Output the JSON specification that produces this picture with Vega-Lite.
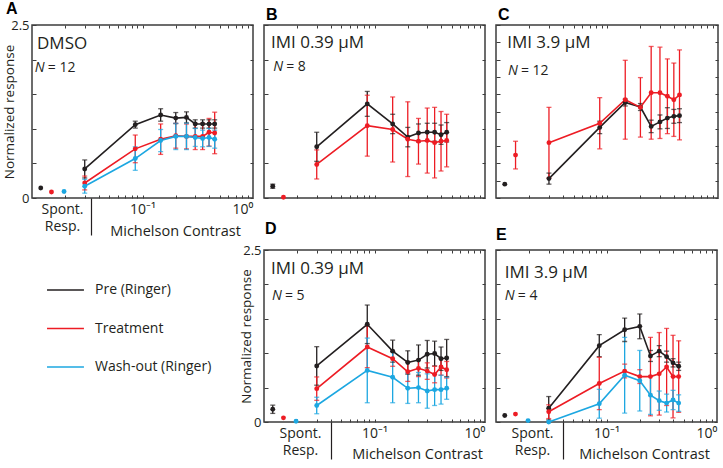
{
"$schema": "https://vega.github.io/schema/vega-lite/v6.json",
"padding": {"left": 1, "top": 0, "right": 0, "bottom": 0},
"background": "white",
"bounds": "flush",
"columns": 3,
"spacing": {"row": 52, "column": 11},
"config": {
  "font": "Open Sans",
  "view": {"stroke": "#3d3d3d", "strokeWidth": 1.5},
  "axis": {"domain": false, "grid": false, "labelFont": "Open Sans", "labelColor": "#231f20", "labelFontSize": 13, "titleFont": "Open Sans", "titleColor": "#231f20", "titleFontWeight": "normal", "titleFontSize": 13.5, "tickColor": "#3d3d3d", "tickWidth": 1, "labelFlush": false, "labelOverlap": false},
  "title": {"font": "Liberation Sans", "fontSize": 16, "fontWeight": "bold", "anchor": "start", "frame": "group", "color": "#000000"}
},
"datasets": {
"A": [
{"s":"pre","t":"s","c":0.012,"v":0.145},
{"s":"pre","t":"c","c":0.03,"v":0.42,"lo":0.29,"hi":0.55},
{"s":"pre","t":"c","c":0.086,"v":1.06,"lo":1.01,"hi":1.11},
{"s":"pre","t":"c","c":0.146,"v":1.2,"lo":1.11,"hi":1.29},
{"s":"pre","t":"c","c":0.2,"v":1.155,"lo":1.075,"hi":1.235},
{"s":"pre","t":"c","c":0.25,"v":1.165,"lo":1.085,"hi":1.245},
{"s":"pre","t":"c","c":0.3,"v":1.07,"lo":1.01,"hi":1.13},
{"s":"pre","t":"c","c":0.35,"v":1.07,"lo":1.01,"hi":1.13},
{"s":"pre","t":"c","c":0.4,"v":1.07,"lo":1.01,"hi":1.13},
{"s":"pre","t":"c","c":0.45,"v":1.07,"lo":1.01,"hi":1.13},
{"s":"trt","t":"s","c":0.015,"v":0.087},
{"s":"trt","t":"c","c":0.03,"v":0.217,"lo":0.117,"hi":0.317},
{"s":"trt","t":"c","c":0.086,"v":0.71,"lo":0.51,"hi":0.91},
{"s":"trt","t":"c","c":0.146,"v":0.85,"lo":0.63,"hi":1.07},
{"s":"trt","t":"c","c":0.2,"v":0.9,"lo":0.72,"hi":1.08},
{"s":"trt","t":"c","c":0.25,"v":0.89,"lo":0.71,"hi":1.07},
{"s":"trt","t":"c","c":0.3,"v":0.89,"lo":0.7,"hi":1.08},
{"s":"trt","t":"c","c":0.35,"v":0.89,"lo":0.7,"hi":1.08},
{"s":"trt","t":"c","c":0.4,"v":0.95,"lo":0.75,"hi":1.15},
{"s":"trt","t":"c","c":0.45,"v":0.94,"lo":0.64,"hi":1.24},
{"s":"wash","t":"s","c":0.0195,"v":0.095},
{"s":"wash","t":"c","c":0.03,"v":0.17,"lo":0.07,"hi":0.27},
{"s":"wash","t":"c","c":0.086,"v":0.57,"lo":0.4,"hi":0.74},
{"s":"wash","t":"c","c":0.146,"v":0.83,"lo":0.67,"hi":0.99},
{"s":"wash","t":"c","c":0.2,"v":0.89,"lo":0.7,"hi":1.08},
{"s":"wash","t":"c","c":0.25,"v":0.89,"lo":0.7,"hi":1.08},
{"s":"wash","t":"c","c":0.3,"v":0.875,"lo":0.745,"hi":1.005},
{"s":"wash","t":"c","c":0.35,"v":0.86,"lo":0.74,"hi":0.98},
{"s":"wash","t":"c","c":0.4,"v":0.875,"lo":0.745,"hi":1.005},
{"s":"wash","t":"c","c":0.45,"v":0.85,"lo":0.72,"hi":0.98}
],
"B": [
{"s":"pre","t":"s","c":0.012,"v":0.17,"lo":0.14,"hi":0.2},
{"s":"pre","t":"c","c":0.03,"v":0.74,"lo":0.53,"hi":0.95},
{"s":"pre","t":"c","c":0.086,"v":1.36,"lo":1.18,"hi":1.54},
{"s":"pre","t":"c","c":0.146,"v":1.07,"lo":0.93,"hi":1.21},
{"s":"pre","t":"c","c":0.2,"v":0.88,"lo":0.74,"hi":1.02},
{"s":"pre","t":"c","c":0.25,"v":0.94,"lo":0.81,"hi":1.07},
{"s":"pre","t":"c","c":0.3,"v":0.95,"lo":0.82,"hi":1.08},
{"s":"pre","t":"c","c":0.35,"v":0.95,"lo":0.82,"hi":1.08},
{"s":"pre","t":"c","c":0.4,"v":0.915,"lo":0.775,"hi":1.055},
{"s":"pre","t":"c","c":0.45,"v":0.95,"lo":0.81,"hi":1.09},
{"s":"trt","t":"s","c":0.015,"v":0.01},
{"s":"trt","t":"c","c":0.03,"v":0.485,"lo":0.275,"hi":0.695},
{"s":"trt","t":"c","c":0.086,"v":1.045,"lo":0.605,"hi":1.485},
{"s":"trt","t":"c","c":0.146,"v":0.99,"lo":0.52,"hi":1.46},
{"s":"trt","t":"c","c":0.2,"v":0.85,"lo":0.31,"hi":1.39},
{"s":"trt","t":"c","c":0.25,"v":0.82,"lo":0.49,"hi":1.15},
{"s":"trt","t":"c","c":0.3,"v":0.83,"lo":0.36,"hi":1.3},
{"s":"trt","t":"c","c":0.35,"v":0.8,"lo":0.29,"hi":1.31},
{"s":"trt","t":"c","c":0.4,"v":0.82,"lo":0.39,"hi":1.25},
{"s":"trt","t":"c","c":0.45,"v":0.83,"lo":0.45,"hi":1.21}
],
"C": [
{"s":"pre","t":"s","c":0.012,"v":0.2},
{"s":"pre","t":"c","c":0.03,"v":0.28,"lo":0.2,"hi":0.36},
{"s":"pre","t":"c","c":0.086,"v":1.02,"lo":0.93,"hi":1.11},
{"s":"pre","t":"c","c":0.146,"v":1.38,"lo":1.33,"hi":1.43},
{"s":"pre","t":"c","c":0.2,"v":1.315,"lo":1.265,"hi":1.365},
{"s":"pre","t":"c","c":0.25,"v":1.035,"lo":0.945,"hi":1.125},
{"s":"pre","t":"c","c":0.3,"v":1.1,"lo":1.0,"hi":1.2},
{"s":"pre","t":"c","c":0.35,"v":1.155,"lo":1.005,"hi":1.305},
{"s":"pre","t":"c","c":0.4,"v":1.18,"lo":1.08,"hi":1.28},
{"s":"pre","t":"c","c":0.45,"v":1.19,"lo":1.09,"hi":1.29},
{"s":"trt","t":"s","c":0.015,"v":0.62,"lo":0.42,"hi":0.82},
{"s":"trt","t":"c","c":0.03,"v":0.8,"lo":0.29,"hi":1.31},
{"s":"trt","t":"c","c":0.086,"v":1.08,"lo":0.71,"hi":1.45},
{"s":"trt","t":"c","c":0.146,"v":1.42,"lo":0.85,"hi":1.99},
{"s":"trt","t":"c","c":0.2,"v":1.31,"lo":0.88,"hi":1.74},
{"s":"trt","t":"c","c":0.25,"v":1.52,"lo":0.85,"hi":2.19},
{"s":"trt","t":"c","c":0.3,"v":1.52,"lo":0.86,"hi":2.18},
{"s":"trt","t":"c","c":0.35,"v":1.47,"lo":0.93,"hi":2.01},
{"s":"trt","t":"c","c":0.4,"v":1.42,"lo":0.89,"hi":1.95},
{"s":"trt","t":"c","c":0.45,"v":1.49,"lo":0.84,"hi":2.14}
],
"D": [
{"s":"pre","t":"s","c":0.012,"v":0.185,"lo":0.125,"hi":0.245},
{"s":"pre","t":"c","c":0.03,"v":0.815,"lo":0.535,"hi":1.095},
{"s":"pre","t":"c","c":0.086,"v":1.42,"lo":1.14,"hi":1.7},
{"s":"pre","t":"c","c":0.146,"v":1.03,"lo":0.87,"hi":1.19},
{"s":"pre","t":"c","c":0.2,"v":0.865,"lo":0.695,"hi":1.035},
{"s":"pre","t":"c","c":0.25,"v":0.9,"lo":0.68,"hi":1.12},
{"s":"pre","t":"c","c":0.3,"v":0.985,"lo":0.785,"hi":1.185},
{"s":"pre","t":"c","c":0.35,"v":0.995,"lo":0.815,"hi":1.175},
{"s":"pre","t":"c","c":0.4,"v":0.92,"lo":0.75,"hi":1.09},
{"s":"pre","t":"c","c":0.45,"v":0.93,"lo":0.66,"hi":1.2},
{"s":"trt","t":"s","c":0.015,"v":0.06},
{"s":"trt","t":"c","c":0.03,"v":0.485,"lo":0.315,"hi":0.655},
{"s":"trt","t":"c","c":0.086,"v":1.09,"lo":0.79,"hi":1.39},
{"s":"trt","t":"c","c":0.146,"v":0.92,"lo":0.81,"hi":1.03},
{"s":"trt","t":"c","c":0.2,"v":0.73,"lo":0.59,"hi":0.87},
{"s":"trt","t":"c","c":0.25,"v":0.78,"lo":0.66,"hi":0.9},
{"s":"trt","t":"c","c":0.3,"v":0.74,"lo":0.62,"hi":0.86},
{"s":"trt","t":"c","c":0.35,"v":0.69,"lo":0.57,"hi":0.81},
{"s":"trt","t":"c","c":0.4,"v":0.8,"lo":0.68,"hi":0.92},
{"s":"trt","t":"c","c":0.45,"v":0.76,"lo":0.64,"hi":0.88},
{"s":"wash","t":"s","c":0.0195,"v":0.01},
{"s":"wash","t":"c","c":0.03,"v":0.24,"lo":0.12,"hi":0.36},
{"s":"wash","t":"c","c":0.086,"v":0.75,"lo":0.28,"hi":1.22},
{"s":"wash","t":"c","c":0.146,"v":0.65,"lo":0.28,"hi":1.02},
{"s":"wash","t":"c","c":0.2,"v":0.49,"lo":0.27,"hi":0.71},
{"s":"wash","t":"c","c":0.25,"v":0.5,"lo":0.28,"hi":0.72},
{"s":"wash","t":"c","c":0.3,"v":0.45,"lo":0.2,"hi":0.7},
{"s":"wash","t":"c","c":0.35,"v":0.47,"lo":0.24,"hi":0.7},
{"s":"wash","t":"c","c":0.4,"v":0.47,"lo":0.26,"hi":0.68},
{"s":"wash","t":"c","c":0.45,"v":0.49,"lo":0.33,"hi":0.65}
],
"E": [
{"s":"pre","t":"s","c":0.012,"v":0.095},
{"s":"pre","t":"c","c":0.03,"v":0.2,"lo":0.03,"hi":0.37},
{"s":"pre","t":"c","c":0.086,"v":1.11,"lo":0.95,"hi":1.27},
{"s":"pre","t":"c","c":0.146,"v":1.34,"lo":1.17,"hi":1.51},
{"s":"pre","t":"c","c":0.2,"v":1.39,"lo":1.21,"hi":1.57},
{"s":"pre","t":"c","c":0.25,"v":0.96,"lo":0.88,"hi":1.04},
{"s":"pre","t":"c","c":0.3,"v":1.03,"lo":0.95,"hi":1.11},
{"s":"pre","t":"c","c":0.35,"v":0.95,"lo":0.87,"hi":1.03},
{"s":"pre","t":"c","c":0.4,"v":0.86,"lo":0.8,"hi":0.92},
{"s":"pre","t":"c","c":0.45,"v":0.81,"lo":0.75,"hi":0.87},
{"s":"trt","t":"s","c":0.015,"v":0.115},
{"s":"trt","t":"c","c":0.03,"v":0.15,"lo":0.05,"hi":0.25},
{"s":"trt","t":"c","c":0.086,"v":0.56,"lo":0.18,"hi":0.94},
{"s":"trt","t":"c","c":0.146,"v":0.74,"lo":0.64,"hi":0.84},
{"s":"trt","t":"c","c":0.2,"v":0.66,"lo":0.56,"hi":0.76},
{"s":"trt","t":"c","c":0.25,"v":0.66,"lo":0.09,"hi":1.23},
{"s":"trt","t":"c","c":0.3,"v":0.7,"lo":0.1,"hi":1.3},
{"s":"trt","t":"c","c":0.35,"v":0.8,"lo":0.24,"hi":1.36},
{"s":"trt","t":"c","c":0.4,"v":0.66,"lo":0.06,"hi":1.26},
{"s":"trt","t":"c","c":0.45,"v":0.66,"lo":0.14,"hi":1.18},
{"s":"wash","t":"s","c":0.0195,"v":0.02},
{"s":"wash","t":"c","c":0.03,"v":0.0},
{"s":"wash","t":"c","c":0.086,"v":0.265,"lo":0.055,"hi":0.475},
{"s":"wash","t":"c","c":0.146,"v":0.68,"lo":0.13,"hi":1.23},
{"s":"wash","t":"c","c":0.2,"v":0.6,"lo":0.16,"hi":1.04},
{"s":"wash","t":"c","c":0.25,"v":0.39,"lo":0.11,"hi":0.67},
{"s":"wash","t":"c","c":0.3,"v":0.31,"lo":0.17,"hi":0.45},
{"s":"wash","t":"c","c":0.35,"v":0.275,"lo":0.145,"hi":0.405},
{"s":"wash","t":"c","c":0.4,"v":0.32,"lo":0.18,"hi":0.46},
{"s":"wash","t":"c","c":0.45,"v":0.275,"lo":0.155,"hi":0.395}
],
"L": [
{"s":"pre","label":"Pre (Ringer)"},
{"s":"trt","label":"Treatment"},
{"s":"wash","label":"Wash-out (Ringer)"}
]
},
"concat": [
{
 "width": 221, "height": 173,
 "title": {"text": "A", "dx": -26, "offset": 2},
 "data": {"name": "A"},
 "resolve": {"axis": {"x": "independent", "y": "independent"}},
 "layer": [
  {"mark": {"type": "point", "opacity": 0},
   "encoding": {
    "x": {"field": "c", "type": "quantitative", "scale": {"type": "log", "domain": [0.01, 1], "nice": false}, "axis": {"orient": "bottom", "values": [0.0187, 0.1, 1], "labelExpr": "datum.value < 0.05 ? ['Spont.', 'Resp.'] : (datum.value < 0.5 ? '10⁻¹' : '10⁰')", "labelAlign": {"condition": {"test": "datum.value == 1", "value": "right"}, "value": "center"}, "ticks": false, "labelPadding": 4, "labelFontSize": 14, "labelLineHeight": 17.5, "title": "Michelson Contrast", "titleX": 143, "titleY": 37, "titleBaseline": "alphabetic", "titleAlign": "center", "titleFontSize": 14.5}},
    "y": {"field": "v", "type": "quantitative", "scale": {"domain": [0, 2.5], "nice": false, "zero": false}, "axis": {"orient": "left", "values": [0, 0.5, 1, 1.5, 2, 2.5], "labelExpr": "datum.value == 0 ? '0' : (datum.value == 2.5 ? '2.5' : '')", "tickSize": -4, "labelPadding": 7, "title": "Normalized response", "titlePadding": -6}}
   }},
  {"mark": {"type": "point", "opacity": 0},
   "encoding": {
    "x": {"field": "c", "type": "quantitative", "scale": {"type": "log", "domain": [0.01, 1], "nice": false}, "axis": {"orient": "bottom", "values": [0.02,0.03,0.04,0.05,0.06,0.07,0.08,0.09,0.1,0.2,0.3,0.4,0.5,0.6,0.7,0.8,0.9], "labels": false, "tickSize": -3, "title": null}},
    "y": {"field": "v", "type": "quantitative", "scale": {"domain": [0, 2.5], "nice": false, "zero": false}, "axis": {"orient": "right", "values": [0, 0.5, 1, 1.5, 2, 2.5], "labels": false, "tickSize": -3, "title": null}}
   }},
  {"mark": {"type": "point", "opacity": 0},
   "encoding": {
    "x": {"field": "c", "type": "quantitative", "scale": {"type": "log", "domain": [0.01, 1], "nice": false}, "axis": {"orient": "top", "values": [0.02,0.03,0.04,0.05,0.06,0.07,0.08,0.09,0.1,0.2,0.3,0.4,0.5,0.6,0.7,0.8,0.9], "labels": false, "tickSize": -3, "title": null}},
    "y": {"field": "v", "type": "quantitative", "scale": {"domain": [0, 2.5], "nice": false, "zero": false}, "axis": null}
   }},
  {"mark": {"type": "point", "opacity": 0},
   "encoding": {
    "x": {"field": "c", "type": "quantitative", "scale": {"type": "log", "domain": [0.01, 1], "nice": false}, "axis": {"orient": "bottom", "values": [0.0344], "labels": false, "tickSize": 37, "tickColor": "#231f20", "tickWidth": 1.2, "title": null}},
    "y": {"field": "v", "type": "quantitative", "scale": {"domain": [0, 2.5], "nice": false, "zero": false}, "axis": null}
   }},
  {"mark": {"type": "rule", "strokeWidth": 1.3},
   "encoding": {
    "x": {"field": "c", "type": "quantitative", "scale": {"type": "log", "domain": [0.01, 1], "nice": false}, "axis": null},
    "y": {"field": "lo", "type": "quantitative", "scale": {"domain": [0, 2.5], "nice": false, "zero": false}, "axis": null},
    "y2": {"field": "hi"},
    "color": {"field": "s", "type": "nominal", "scale": {"domain": ["pre", "trt", "wash"], "range": ["#231f20", "#ed1c24", "#1ca7e1"]}, "legend": null}
   }},
  {"mark": {"type": "tick", "orient": "horizontal", "size": 5, "thickness": 1.3},
   "encoding": {
    "x": {"field": "c", "type": "quantitative", "scale": {"type": "log", "domain": [0.01, 1], "nice": false}, "axis": null},
    "y": {"field": "lo", "type": "quantitative", "scale": {"domain": [0, 2.5], "nice": false, "zero": false}, "axis": null},
    "color": {"field": "s", "type": "nominal", "scale": {"domain": ["pre", "trt", "wash"], "range": ["#231f20", "#ed1c24", "#1ca7e1"]}, "legend": null}
   }},
  {"mark": {"type": "tick", "orient": "horizontal", "size": 5, "thickness": 1.3},
   "encoding": {
    "x": {"field": "c", "type": "quantitative", "scale": {"type": "log", "domain": [0.01, 1], "nice": false}, "axis": null},
    "y": {"field": "hi", "type": "quantitative", "scale": {"domain": [0, 2.5], "nice": false, "zero": false}, "axis": null},
    "color": {"field": "s", "type": "nominal", "scale": {"domain": ["pre", "trt", "wash"], "range": ["#231f20", "#ed1c24", "#1ca7e1"]}, "legend": null}
   }},
  {"transform": [{"filter": "datum.t == 'c'"}],
   "mark": {"type": "line", "strokeWidth": 1.6},
   "encoding": {
    "x": {"field": "c", "type": "quantitative", "scale": {"type": "log", "domain": [0.01, 1], "nice": false}, "axis": null},
    "y": {"field": "v", "type": "quantitative", "scale": {"domain": [0, 2.5], "nice": false, "zero": false}, "axis": null},
    "color": {"field": "s", "type": "nominal", "scale": {"domain": ["pre", "trt", "wash"], "range": ["#231f20", "#ed1c24", "#1ca7e1"]}, "legend": null}
   }},
  {"mark": {"type": "circle", "size": 24, "opacity": 1},
   "encoding": {
    "x": {"field": "c", "type": "quantitative", "scale": {"type": "log", "domain": [0.01, 1], "nice": false}, "axis": null},
    "y": {"field": "v", "type": "quantitative", "scale": {"domain": [0, 2.5], "nice": false, "zero": false}, "axis": null},
    "color": {"field": "s", "type": "nominal", "scale": {"domain": ["pre", "trt", "wash"], "range": ["#231f20", "#ed1c24", "#1ca7e1"]}, "legend": null}
   }},
  {"data": {"values": [{}]},
   "mark": {"type": "text", "align": "left", "baseline": "alphabetic", "fontSize": 17, "color": "#231f20", "text": "DMSO"},
   "encoding": {"x": {"datum": 0.0111, "type": "quantitative", "scale": {"type": "log", "domain": [0.01, 1], "nice": false}, "axis": null}, "y": {"datum": 2.15, "type": "quantitative", "scale": {"domain": [0, 2.5], "nice": false, "zero": false}, "axis": null}}},
  {"data": {"values": [{}]},
   "mark": {"type": "text", "align": "left", "baseline": "alphabetic", "fontSize": 14, "fontStyle": "italic", "color": "#231f20", "text": "N"},
   "encoding": {"x": {"datum": 0.0106, "type": "quantitative", "scale": {"type": "log", "domain": [0.01, 1], "nice": false}, "axis": null}, "y": {"datum": 1.815, "type": "quantitative", "scale": {"domain": [0, 2.5], "nice": false, "zero": false}, "axis": null}}},
  {"data": {"values": [{}]},
   "mark": {"type": "text", "align": "left", "baseline": "alphabetic", "fontSize": 14, "color": "#231f20", "text": "= 12", "dx": 13},
   "encoding": {"x": {"datum": 0.0106, "type": "quantitative", "scale": {"type": "log", "domain": [0.01, 1], "nice": false}, "axis": null}, "y": {"datum": 1.815, "type": "quantitative", "scale": {"domain": [0, 2.5], "nice": false, "zero": false}, "axis": null}}}
 ]
},
{
 "width": 221, "height": 173,
 "title": {"text": "B", "dx": 2, "offset": 2},
 "data": {"name": "B"},
 "resolve": {"axis": {"x": "independent", "y": "independent"}},
 "layer": [
  {"mark": {"type": "point", "opacity": 0},
   "encoding": {
    "x": {"field": "c", "type": "quantitative", "scale": {"type": "log", "domain": [0.01, 1], "nice": false}, "axis": {"orient": "bottom", "values": [0.02,0.03,0.04,0.05,0.06,0.07,0.08,0.09,0.1,0.2,0.3,0.4,0.5,0.6,0.7,0.8,0.9], "labels": false, "tickSize": -3, "title": null}},
    "y": {"field": "v", "type": "quantitative", "scale": {"domain": [0, 2.5], "nice": false, "zero": false}, "axis": {"orient": "left", "values": [0, 0.5, 1, 1.5, 2, 2.5], "labels": false, "tickSize": -4, "title": null}}
   }},
  {"mark": {"type": "point", "opacity": 0},
   "encoding": {
    "x": {"field": "c", "type": "quantitative", "scale": {"type": "log", "domain": [0.01, 1], "nice": false}, "axis": {"orient": "top", "values": [0.02,0.03,0.04,0.05,0.06,0.07,0.08,0.09,0.1,0.2,0.3,0.4,0.5,0.6,0.7,0.8,0.9], "labels": false, "tickSize": -3, "title": null}},
    "y": {"field": "v", "type": "quantitative", "scale": {"domain": [0, 2.5], "nice": false, "zero": false}, "axis": {"orient": "right", "values": [0, 0.5, 1, 1.5, 2, 2.5], "labels": false, "tickSize": -3, "title": null}}
   }},
  {"mark": {"type": "rule", "strokeWidth": 1.3},
   "encoding": {
    "x": {"field": "c", "type": "quantitative", "scale": {"type": "log", "domain": [0.01, 1], "nice": false}, "axis": null},
    "y": {"field": "lo", "type": "quantitative", "scale": {"domain": [0, 2.5], "nice": false, "zero": false}, "axis": null},
    "y2": {"field": "hi"},
    "color": {"field": "s", "type": "nominal", "scale": {"domain": ["pre", "trt", "wash"], "range": ["#231f20", "#ed1c24", "#1ca7e1"]}, "legend": null}
   }},
  {"mark": {"type": "tick", "orient": "horizontal", "size": 5, "thickness": 1.3},
   "encoding": {
    "x": {"field": "c", "type": "quantitative", "scale": {"type": "log", "domain": [0.01, 1], "nice": false}, "axis": null},
    "y": {"field": "lo", "type": "quantitative", "scale": {"domain": [0, 2.5], "nice": false, "zero": false}, "axis": null},
    "color": {"field": "s", "type": "nominal", "scale": {"domain": ["pre", "trt", "wash"], "range": ["#231f20", "#ed1c24", "#1ca7e1"]}, "legend": null}
   }},
  {"mark": {"type": "tick", "orient": "horizontal", "size": 5, "thickness": 1.3},
   "encoding": {
    "x": {"field": "c", "type": "quantitative", "scale": {"type": "log", "domain": [0.01, 1], "nice": false}, "axis": null},
    "y": {"field": "hi", "type": "quantitative", "scale": {"domain": [0, 2.5], "nice": false, "zero": false}, "axis": null},
    "color": {"field": "s", "type": "nominal", "scale": {"domain": ["pre", "trt", "wash"], "range": ["#231f20", "#ed1c24", "#1ca7e1"]}, "legend": null}
   }},
  {"transform": [{"filter": "datum.t == 'c'"}],
   "mark": {"type": "line", "strokeWidth": 1.6},
   "encoding": {
    "x": {"field": "c", "type": "quantitative", "scale": {"type": "log", "domain": [0.01, 1], "nice": false}, "axis": null},
    "y": {"field": "v", "type": "quantitative", "scale": {"domain": [0, 2.5], "nice": false, "zero": false}, "axis": null},
    "color": {"field": "s", "type": "nominal", "scale": {"domain": ["pre", "trt", "wash"], "range": ["#231f20", "#ed1c24", "#1ca7e1"]}, "legend": null}
   }},
  {"mark": {"type": "circle", "size": 24, "opacity": 1},
   "encoding": {
    "x": {"field": "c", "type": "quantitative", "scale": {"type": "log", "domain": [0.01, 1], "nice": false}, "axis": null},
    "y": {"field": "v", "type": "quantitative", "scale": {"domain": [0, 2.5], "nice": false, "zero": false}, "axis": null},
    "color": {"field": "s", "type": "nominal", "scale": {"domain": ["pre", "trt", "wash"], "range": ["#231f20", "#ed1c24", "#1ca7e1"]}, "legend": null}
   }},
  {"data": {"values": [{}]},
   "mark": {"type": "text", "align": "left", "baseline": "alphabetic", "fontSize": 17, "color": "#231f20", "text": "IMI 0.39 μM"},
   "encoding": {"x": {"datum": 0.01156, "type": "quantitative", "scale": {"type": "log", "domain": [0.01, 1], "nice": false}, "axis": null}, "y": {"datum": 2.17, "type": "quantitative", "scale": {"domain": [0, 2.5], "nice": false, "zero": false}, "axis": null}}},
  {"data": {"values": [{}]},
   "mark": {"type": "text", "align": "left", "baseline": "alphabetic", "fontSize": 14, "fontStyle": "italic", "color": "#231f20", "text": "N"},
   "encoding": {"x": {"datum": 0.0121, "type": "quantitative", "scale": {"type": "log", "domain": [0.01, 1], "nice": false}, "axis": null}, "y": {"datum": 1.83, "type": "quantitative", "scale": {"domain": [0, 2.5], "nice": false, "zero": false}, "axis": null}}},
  {"data": {"values": [{}]},
   "mark": {"type": "text", "align": "left", "baseline": "alphabetic", "fontSize": 14, "color": "#231f20", "text": "= 8", "dx": 13},
   "encoding": {"x": {"datum": 0.0121, "type": "quantitative", "scale": {"type": "log", "domain": [0.01, 1], "nice": false}, "axis": null}, "y": {"datum": 1.83, "type": "quantitative", "scale": {"domain": [0, 2.5], "nice": false, "zero": false}, "axis": null}}}
 ]
},
{
 "width": 222, "height": 173,
 "title": {"text": "C", "dx": 2, "offset": 2},
 "data": {"name": "C"},
 "resolve": {"axis": {"x": "independent", "y": "independent"}},
 "layer": [
  {"mark": {"type": "point", "opacity": 0},
   "encoding": {
    "x": {"field": "c", "type": "quantitative", "scale": {"type": "log", "domain": [0.01, 1], "nice": false}, "axis": {"orient": "bottom", "values": [0.02,0.03,0.04,0.05,0.06,0.07,0.08,0.09,0.1,0.2,0.3,0.4,0.5,0.6,0.7,0.8,0.9], "labels": false, "tickSize": -3, "title": null}},
    "y": {"field": "v", "type": "quantitative", "scale": {"domain": [0, 2.5], "nice": false, "zero": false}, "axis": {"orient": "left", "values": [0, 0.25, 0.5, 0.75, 1, 1.25, 1.5, 1.75, 2, 2.25, 2.5], "labels": false, "tickSize": -4, "title": null}}
   }},
  {"mark": {"type": "point", "opacity": 0},
   "encoding": {
    "x": {"field": "c", "type": "quantitative", "scale": {"type": "log", "domain": [0.01, 1], "nice": false}, "axis": {"orient": "top", "values": [0.02,0.03,0.04,0.05,0.06,0.07,0.08,0.09,0.1,0.2,0.3,0.4,0.5,0.6,0.7,0.8,0.9], "labels": false, "tickSize": -3, "title": null}},
    "y": {"field": "v", "type": "quantitative", "scale": {"domain": [0, 2.5], "nice": false, "zero": false}, "axis": {"orient": "right", "values": [0, 0.25, 0.5, 0.75, 1, 1.25, 1.5, 1.75, 2, 2.25, 2.5], "labels": false, "tickSize": -3, "title": null}}
   }},
  {"mark": {"type": "rule", "strokeWidth": 1.3},
   "encoding": {
    "x": {"field": "c", "type": "quantitative", "scale": {"type": "log", "domain": [0.01, 1], "nice": false}, "axis": null},
    "y": {"field": "lo", "type": "quantitative", "scale": {"domain": [0, 2.5], "nice": false, "zero": false}, "axis": null},
    "y2": {"field": "hi"},
    "color": {"field": "s", "type": "nominal", "scale": {"domain": ["pre", "trt", "wash"], "range": ["#231f20", "#ed1c24", "#1ca7e1"]}, "legend": null}
   }},
  {"mark": {"type": "tick", "orient": "horizontal", "size": 5, "thickness": 1.3},
   "encoding": {
    "x": {"field": "c", "type": "quantitative", "scale": {"type": "log", "domain": [0.01, 1], "nice": false}, "axis": null},
    "y": {"field": "lo", "type": "quantitative", "scale": {"domain": [0, 2.5], "nice": false, "zero": false}, "axis": null},
    "color": {"field": "s", "type": "nominal", "scale": {"domain": ["pre", "trt", "wash"], "range": ["#231f20", "#ed1c24", "#1ca7e1"]}, "legend": null}
   }},
  {"mark": {"type": "tick", "orient": "horizontal", "size": 5, "thickness": 1.3},
   "encoding": {
    "x": {"field": "c", "type": "quantitative", "scale": {"type": "log", "domain": [0.01, 1], "nice": false}, "axis": null},
    "y": {"field": "hi", "type": "quantitative", "scale": {"domain": [0, 2.5], "nice": false, "zero": false}, "axis": null},
    "color": {"field": "s", "type": "nominal", "scale": {"domain": ["pre", "trt", "wash"], "range": ["#231f20", "#ed1c24", "#1ca7e1"]}, "legend": null}
   }},
  {"transform": [{"filter": "datum.t == 'c'"}],
   "mark": {"type": "line", "strokeWidth": 1.6},
   "encoding": {
    "x": {"field": "c", "type": "quantitative", "scale": {"type": "log", "domain": [0.01, 1], "nice": false}, "axis": null},
    "y": {"field": "v", "type": "quantitative", "scale": {"domain": [0, 2.5], "nice": false, "zero": false}, "axis": null},
    "color": {"field": "s", "type": "nominal", "scale": {"domain": ["pre", "trt", "wash"], "range": ["#231f20", "#ed1c24", "#1ca7e1"]}, "legend": null}
   }},
  {"mark": {"type": "circle", "size": 24, "opacity": 1},
   "encoding": {
    "x": {"field": "c", "type": "quantitative", "scale": {"type": "log", "domain": [0.01, 1], "nice": false}, "axis": null},
    "y": {"field": "v", "type": "quantitative", "scale": {"domain": [0, 2.5], "nice": false, "zero": false}, "axis": null},
    "color": {"field": "s", "type": "nominal", "scale": {"domain": ["pre", "trt", "wash"], "range": ["#231f20", "#ed1c24", "#1ca7e1"]}, "legend": null}
   }},
  {"data": {"values": [{}]},
   "mark": {"type": "text", "align": "left", "baseline": "alphabetic", "fontSize": 17, "color": "#231f20", "text": "IMI 3.9 μM"},
   "encoding": {"x": {"datum": 0.0126, "type": "quantitative", "scale": {"type": "log", "domain": [0.01, 1], "nice": false}, "axis": null}, "y": {"datum": 2.17, "type": "quantitative", "scale": {"domain": [0, 2.5], "nice": false, "zero": false}, "axis": null}}},
  {"data": {"values": [{}]},
   "mark": {"type": "text", "align": "left", "baseline": "alphabetic", "fontSize": 14, "fontStyle": "italic", "color": "#231f20", "text": "N"},
   "encoding": {"x": {"datum": 0.0128, "type": "quantitative", "scale": {"type": "log", "domain": [0.01, 1], "nice": false}, "axis": null}, "y": {"datum": 1.78, "type": "quantitative", "scale": {"domain": [0, 2.5], "nice": false, "zero": false}, "axis": null}}},
  {"data": {"values": [{}]},
   "mark": {"type": "text", "align": "left", "baseline": "alphabetic", "fontSize": 14, "color": "#231f20", "text": "= 12", "dx": 13},
   "encoding": {"x": {"datum": 0.0128, "type": "quantitative", "scale": {"type": "log", "domain": [0.01, 1], "nice": false}, "axis": null}, "y": {"datum": 1.78, "type": "quantitative", "scale": {"domain": [0, 2.5], "nice": false, "zero": false}, "axis": null}}}
 ]
},
{
 "width": 221, "height": 172,
 "view": {"stroke": null},
 "data": {"name": "L"},
 "layer": [
  {"mark": {"type": "rule", "strokeWidth": 1.6},
   "encoding": {
    "y": {"field": "label", "type": "nominal", "scale": {"type": "point", "domain": ["Pre (Ringer)", "Treatment", "Wash-out (Ringer)"], "range": [40, 117], "padding": 0}, "axis": null},
    "x": {"datum": 0.068, "type": "quantitative", "scale": {"domain": [0, 1], "nice": false}, "axis": null},
    "x2": {"datum": 0.235},
    "color": {"field": "s", "type": "nominal", "scale": {"domain": ["pre", "trt", "wash"], "range": ["#231f20", "#ed1c24", "#1ca7e1"]}, "legend": null}
   }},
  {"mark": {"type": "text", "align": "left", "baseline": "middle", "fontSize": 14, "color": "#231f20"},
   "encoding": {
    "y": {"field": "label", "type": "nominal", "scale": {"type": "point", "domain": ["Pre (Ringer)", "Treatment", "Wash-out (Ringer)"], "range": [40, 117], "padding": 0}, "axis": null},
    "x": {"datum": 0.285, "type": "quantitative", "scale": {"domain": [0, 1], "nice": false}, "axis": null},
    "text": {"field": "label"}
   }}
 ]
},
{
 "width": 221, "height": 172,
 "title": {"text": "D", "dx": 1, "offset": 7},
 "data": {"name": "D"},
 "resolve": {"axis": {"x": "independent", "y": "independent"}},
 "layer": [
  {"mark": {"type": "point", "opacity": 0},
   "encoding": {
    "x": {"field": "c", "type": "quantitative", "scale": {"type": "log", "domain": [0.01, 1], "nice": false}, "axis": {"orient": "bottom", "values": [0.0212, 0.1, 1], "labelExpr": "datum.value < 0.05 ? ['Spont.', 'Resp.'] : (datum.value < 0.5 ? '10⁻¹' : '10⁰')", "labelAlign": {"condition": {"test": "datum.value == 1", "value": "right"}, "value": "center"}, "ticks": false, "labelPadding": 4, "labelFontSize": 14, "labelLineHeight": 17.5, "title": "Michelson Contrast", "titleX": 153, "titleY": 36, "titleBaseline": "alphabetic", "titleAlign": "center", "titleFontSize": 14.5}},
    "y": {"field": "v", "type": "quantitative", "scale": {"domain": [0, 2.5], "nice": false, "zero": false}, "axis": {"orient": "left", "values": [0, 0.5, 1, 1.5, 2, 2.5], "labelExpr": "datum.value == 0 ? '0' : (datum.value == 2.5 ? '2.5' : '')", "tickSize": -4, "labelPadding": 7, "title": "Normalized response", "titlePadding": -11}}
   }},
  {"mark": {"type": "point", "opacity": 0},
   "encoding": {
    "x": {"field": "c", "type": "quantitative", "scale": {"type": "log", "domain": [0.01, 1], "nice": false}, "axis": {"orient": "bottom", "values": [0.02,0.03,0.04,0.05,0.06,0.07,0.08,0.09,0.1,0.2,0.3,0.4,0.5,0.6,0.7,0.8,0.9], "labels": false, "tickSize": -3, "title": null}},
    "y": {"field": "v", "type": "quantitative", "scale": {"domain": [0, 2.5], "nice": false, "zero": false}, "axis": {"orient": "right", "values": [0, 0.5, 1, 1.5, 2, 2.5], "labels": false, "tickSize": -3, "title": null}}
   }},
  {"mark": {"type": "point", "opacity": 0},
   "encoding": {
    "x": {"field": "c", "type": "quantitative", "scale": {"type": "log", "domain": [0.01, 1], "nice": false}, "axis": {"orient": "top", "values": [0.02,0.03,0.04,0.05,0.06,0.07,0.08,0.09,0.1,0.2,0.3,0.4,0.5,0.6,0.7,0.8,0.9], "labels": false, "tickSize": -3, "title": null}},
    "y": {"field": "v", "type": "quantitative", "scale": {"domain": [0, 2.5], "nice": false, "zero": false}, "axis": null}
   }},
  {"mark": {"type": "point", "opacity": 0},
   "encoding": {
    "x": {"field": "c", "type": "quantitative", "scale": {"type": "log", "domain": [0.01, 1], "nice": false}, "axis": {"orient": "bottom", "values": [0.0406], "labels": false, "tickSize": 37, "tickColor": "#231f20", "tickWidth": 1.2, "title": null}},
    "y": {"field": "v", "type": "quantitative", "scale": {"domain": [0, 2.5], "nice": false, "zero": false}, "axis": null}
   }},
  {"mark": {"type": "rule", "strokeWidth": 1.3},
   "encoding": {
    "x": {"field": "c", "type": "quantitative", "scale": {"type": "log", "domain": [0.01, 1], "nice": false}, "axis": null},
    "y": {"field": "lo", "type": "quantitative", "scale": {"domain": [0, 2.5], "nice": false, "zero": false}, "axis": null},
    "y2": {"field": "hi"},
    "color": {"field": "s", "type": "nominal", "scale": {"domain": ["pre", "trt", "wash"], "range": ["#231f20", "#ed1c24", "#1ca7e1"]}, "legend": null}
   }},
  {"mark": {"type": "tick", "orient": "horizontal", "size": 5, "thickness": 1.3},
   "encoding": {
    "x": {"field": "c", "type": "quantitative", "scale": {"type": "log", "domain": [0.01, 1], "nice": false}, "axis": null},
    "y": {"field": "lo", "type": "quantitative", "scale": {"domain": [0, 2.5], "nice": false, "zero": false}, "axis": null},
    "color": {"field": "s", "type": "nominal", "scale": {"domain": ["pre", "trt", "wash"], "range": ["#231f20", "#ed1c24", "#1ca7e1"]}, "legend": null}
   }},
  {"mark": {"type": "tick", "orient": "horizontal", "size": 5, "thickness": 1.3},
   "encoding": {
    "x": {"field": "c", "type": "quantitative", "scale": {"type": "log", "domain": [0.01, 1], "nice": false}, "axis": null},
    "y": {"field": "hi", "type": "quantitative", "scale": {"domain": [0, 2.5], "nice": false, "zero": false}, "axis": null},
    "color": {"field": "s", "type": "nominal", "scale": {"domain": ["pre", "trt", "wash"], "range": ["#231f20", "#ed1c24", "#1ca7e1"]}, "legend": null}
   }},
  {"transform": [{"filter": "datum.t == 'c'"}],
   "mark": {"type": "line", "strokeWidth": 1.6},
   "encoding": {
    "x": {"field": "c", "type": "quantitative", "scale": {"type": "log", "domain": [0.01, 1], "nice": false}, "axis": null},
    "y": {"field": "v", "type": "quantitative", "scale": {"domain": [0, 2.5], "nice": false, "zero": false}, "axis": null},
    "color": {"field": "s", "type": "nominal", "scale": {"domain": ["pre", "trt", "wash"], "range": ["#231f20", "#ed1c24", "#1ca7e1"]}, "legend": null}
   }},
  {"mark": {"type": "circle", "size": 24, "opacity": 1},
   "encoding": {
    "x": {"field": "c", "type": "quantitative", "scale": {"type": "log", "domain": [0.01, 1], "nice": false}, "axis": null},
    "y": {"field": "v", "type": "quantitative", "scale": {"domain": [0, 2.5], "nice": false, "zero": false}, "axis": null},
    "color": {"field": "s", "type": "nominal", "scale": {"domain": ["pre", "trt", "wash"], "range": ["#231f20", "#ed1c24", "#1ca7e1"]}, "legend": null}
   }},
  {"data": {"values": [{}]},
   "mark": {"type": "text", "align": "left", "baseline": "alphabetic", "fontSize": 17, "color": "#231f20", "text": "IMI 0.39 μM"},
   "encoding": {"x": {"datum": 0.01156, "type": "quantitative", "scale": {"type": "log", "domain": [0.01, 1], "nice": false}, "axis": null}, "y": {"datum": 2.15, "type": "quantitative", "scale": {"domain": [0, 2.5], "nice": false, "zero": false}, "axis": null}}},
  {"data": {"values": [{}]},
   "mark": {"type": "text", "align": "left", "baseline": "alphabetic", "fontSize": 14, "fontStyle": "italic", "color": "#231f20", "text": "N"},
   "encoding": {"x": {"datum": 0.0118, "type": "quantitative", "scale": {"type": "log", "domain": [0.01, 1], "nice": false}, "axis": null}, "y": {"datum": 1.77, "type": "quantitative", "scale": {"domain": [0, 2.5], "nice": false, "zero": false}, "axis": null}}},
  {"data": {"values": [{}]},
   "mark": {"type": "text", "align": "left", "baseline": "alphabetic", "fontSize": 14, "color": "#231f20", "text": "= 5", "dx": 13},
   "encoding": {"x": {"datum": 0.0118, "type": "quantitative", "scale": {"type": "log", "domain": [0.01, 1], "nice": false}, "axis": null}, "y": {"datum": 1.77, "type": "quantitative", "scale": {"domain": [0, 2.5], "nice": false, "zero": false}, "axis": null}}}
 ]
},
{
 "width": 221, "height": 172,
 "title": {"text": "E", "dx": 0, "offset": 7},
 "data": {"name": "E"},
 "resolve": {"axis": {"x": "independent", "y": "independent"}},
 "layer": [
  {"mark": {"type": "point", "opacity": 0},
   "encoding": {
    "x": {"field": "c", "type": "quantitative", "scale": {"type": "log", "domain": [0.01, 1], "nice": false}, "axis": {"orient": "bottom", "values": [0.0212, 0.1, 1], "labelExpr": "datum.value < 0.05 ? ['Spont.', 'Resp.'] : (datum.value < 0.5 ? '10⁻¹' : '10⁰')", "labelAlign": {"condition": {"test": "datum.value == 1", "value": "right"}, "value": "center"}, "ticks": false, "labelPadding": 4, "labelFontSize": 14, "labelLineHeight": 17.5, "title": "Michelson Contrast", "titleX": 148, "titleY": 36, "titleBaseline": "alphabetic", "titleAlign": "center", "titleFontSize": 14.5}},
    "y": {"field": "v", "type": "quantitative", "scale": {"domain": [0, 2.5], "nice": false, "zero": false}, "axis": {"orient": "left", "values": [0, 0.5, 1, 1.5, 2, 2.5], "labels": false, "tickSize": -4, "title": null}}
   }},
  {"mark": {"type": "point", "opacity": 0},
   "encoding": {
    "x": {"field": "c", "type": "quantitative", "scale": {"type": "log", "domain": [0.01, 1], "nice": false}, "axis": {"orient": "bottom", "values": [0.02,0.03,0.04,0.05,0.06,0.07,0.08,0.09,0.1,0.2,0.3,0.4,0.5,0.6,0.7,0.8,0.9], "labels": false, "tickSize": -3, "title": null}},
    "y": {"field": "v", "type": "quantitative", "scale": {"domain": [0, 2.5], "nice": false, "zero": false}, "axis": {"orient": "right", "values": [0, 0.5, 1, 1.5, 2, 2.5], "labels": false, "tickSize": -3, "title": null}}
   }},
  {"mark": {"type": "point", "opacity": 0},
   "encoding": {
    "x": {"field": "c", "type": "quantitative", "scale": {"type": "log", "domain": [0.01, 1], "nice": false}, "axis": {"orient": "top", "values": [0.02,0.03,0.04,0.05,0.06,0.07,0.08,0.09,0.1,0.2,0.3,0.4,0.5,0.6,0.7,0.8,0.9], "labels": false, "tickSize": -3, "title": null}},
    "y": {"field": "v", "type": "quantitative", "scale": {"domain": [0, 2.5], "nice": false, "zero": false}, "axis": null}
   }},
  {"mark": {"type": "point", "opacity": 0},
   "encoding": {
    "x": {"field": "c", "type": "quantitative", "scale": {"type": "log", "domain": [0.01, 1], "nice": false}, "axis": {"orient": "bottom", "values": [0.0406], "labels": false, "tickSize": 37, "tickColor": "#231f20", "tickWidth": 1.2, "title": null}},
    "y": {"field": "v", "type": "quantitative", "scale": {"domain": [0, 2.5], "nice": false, "zero": false}, "axis": null}
   }},
  {"mark": {"type": "rule", "strokeWidth": 1.3},
   "encoding": {
    "x": {"field": "c", "type": "quantitative", "scale": {"type": "log", "domain": [0.01, 1], "nice": false}, "axis": null},
    "y": {"field": "lo", "type": "quantitative", "scale": {"domain": [0, 2.5], "nice": false, "zero": false}, "axis": null},
    "y2": {"field": "hi"},
    "color": {"field": "s", "type": "nominal", "scale": {"domain": ["pre", "trt", "wash"], "range": ["#231f20", "#ed1c24", "#1ca7e1"]}, "legend": null}
   }},
  {"mark": {"type": "tick", "orient": "horizontal", "size": 5, "thickness": 1.3},
   "encoding": {
    "x": {"field": "c", "type": "quantitative", "scale": {"type": "log", "domain": [0.01, 1], "nice": false}, "axis": null},
    "y": {"field": "lo", "type": "quantitative", "scale": {"domain": [0, 2.5], "nice": false, "zero": false}, "axis": null},
    "color": {"field": "s", "type": "nominal", "scale": {"domain": ["pre", "trt", "wash"], "range": ["#231f20", "#ed1c24", "#1ca7e1"]}, "legend": null}
   }},
  {"mark": {"type": "tick", "orient": "horizontal", "size": 5, "thickness": 1.3},
   "encoding": {
    "x": {"field": "c", "type": "quantitative", "scale": {"type": "log", "domain": [0.01, 1], "nice": false}, "axis": null},
    "y": {"field": "hi", "type": "quantitative", "scale": {"domain": [0, 2.5], "nice": false, "zero": false}, "axis": null},
    "color": {"field": "s", "type": "nominal", "scale": {"domain": ["pre", "trt", "wash"], "range": ["#231f20", "#ed1c24", "#1ca7e1"]}, "legend": null}
   }},
  {"transform": [{"filter": "datum.t == 'c'"}],
   "mark": {"type": "line", "strokeWidth": 1.6},
   "encoding": {
    "x": {"field": "c", "type": "quantitative", "scale": {"type": "log", "domain": [0.01, 1], "nice": false}, "axis": null},
    "y": {"field": "v", "type": "quantitative", "scale": {"domain": [0, 2.5], "nice": false, "zero": false}, "axis": null},
    "color": {"field": "s", "type": "nominal", "scale": {"domain": ["pre", "trt", "wash"], "range": ["#231f20", "#ed1c24", "#1ca7e1"]}, "legend": null}
   }},
  {"mark": {"type": "circle", "size": 24, "opacity": 1},
   "encoding": {
    "x": {"field": "c", "type": "quantitative", "scale": {"type": "log", "domain": [0.01, 1], "nice": false}, "axis": null},
    "y": {"field": "v", "type": "quantitative", "scale": {"domain": [0, 2.5], "nice": false, "zero": false}, "axis": null},
    "color": {"field": "s", "type": "nominal", "scale": {"domain": ["pre", "trt", "wash"], "range": ["#231f20", "#ed1c24", "#1ca7e1"]}, "legend": null}
   }},
  {"data": {"values": [{}]},
   "mark": {"type": "text", "align": "left", "baseline": "alphabetic", "fontSize": 17, "color": "#231f20", "text": "IMI 3.9 μM"},
   "encoding": {"x": {"datum": 0.012, "type": "quantitative", "scale": {"type": "log", "domain": [0.01, 1], "nice": false}, "axis": null}, "y": {"datum": 2.1, "type": "quantitative", "scale": {"domain": [0, 2.5], "nice": false, "zero": false}, "axis": null}}},
  {"data": {"values": [{}]},
   "mark": {"type": "text", "align": "left", "baseline": "alphabetic", "fontSize": 14, "fontStyle": "italic", "color": "#231f20", "text": "N"},
   "encoding": {"x": {"datum": 0.012, "type": "quantitative", "scale": {"type": "log", "domain": [0.01, 1], "nice": false}, "axis": null}, "y": {"datum": 1.77, "type": "quantitative", "scale": {"domain": [0, 2.5], "nice": false, "zero": false}, "axis": null}}},
  {"data": {"values": [{}]},
   "mark": {"type": "text", "align": "left", "baseline": "alphabetic", "fontSize": 14, "color": "#231f20", "text": "= 4", "dx": 13},
   "encoding": {"x": {"datum": 0.012, "type": "quantitative", "scale": {"type": "log", "domain": [0.01, 1], "nice": false}, "axis": null}, "y": {"datum": 1.77, "type": "quantitative", "scale": {"domain": [0, 2.5], "nice": false, "zero": false}, "axis": null}}}
 ]
}
]
}
